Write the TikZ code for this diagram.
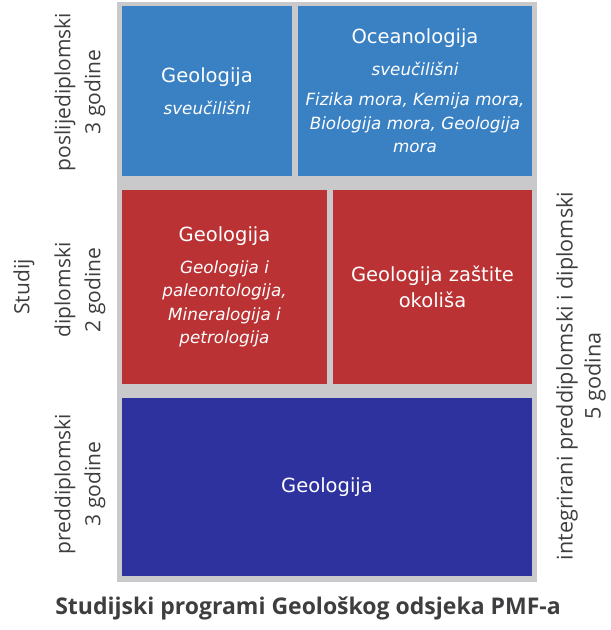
\documentclass[tikz,border=0pt]{standalone}
\usepackage{fontspec}
\setmainfont{DejaVu Sans}
\newfontfamily\sidefont{Open Sans}
\definecolor{postblue}{RGB}{58,129,196}
\definecolor{diplred}{RGB}{186,50,52}
\definecolor{predblue}{RGB}{46,50,158}
\definecolor{panelgray}{RGB}{201,201,203}
\definecolor{labelgray}{RGB}{62,62,64}
\newcommand{\prghead}[1]{{\upshape\fontsize{19.5}{23.5}\selectfont #1}}
\begin{document}
\begin{tikzpicture}[x=1pt, y=-1pt,
  prog/.style={text=white, align=center, inner sep=0pt, outer sep=0pt,
    font=\fontsize{16.8}{23.5}\selectfont\itshape},
  side/.style={rotate=90, align=center, text=labelgray,
    font=\sidefont\fontsize{21}{30}\selectfont}]
\useasboundingbox (0,0) rectangle (611,630);
% gray panel behind the programmes
\fill[panelgray] (117,2) rectangle (537,582);
% poslijediplomski
\node[prog, fill=postblue, minimum width=170pt, minimum height=170pt] (geopost) at (207,91)
  {\prghead{Geologija}\\[8.5pt] sveučilišni};
\node[prog, fill=postblue, minimum width=234pt, minimum height=170pt] (ocean) at (415,91)
  {\prghead{Oceanologija}\\[8.5pt] sveučilišni\\[6.5pt] Fizika mora, Kemija mora,\\ Biologija mora, Geologija\\ mora};
% diplomski
\node[prog, fill=diplred, minimum width=205pt, minimum height=194pt] (geodipl) at (224.5,287)
  {\prghead{Geologija}\\[8.5pt] Geologija i\\ paleontologija,\\ Mineralogija i\\ petrologija};
\node[prog, fill=diplred, minimum width=199pt, minimum height=194pt,
  font=\fontsize{19.5}{26}\selectfont] (okolis) at (432.5,287) {Geologija zaštite\\ okoliša};
% preddiplomski
\node[prog, fill=predblue, minimum width=410pt, minimum height=178pt,
  font=\fontsize{19.5}{26}\selectfont] (geopred) at (327,487) {Geologija};
% side labels
\node[side] (lpost) at (80,92) {poslijediplomski\\3 godine};
\node[side] (studij) at (24,287) {Studij};
\node[side] (ldipl) at (80,290) {diplomski\\2 godine};
\node[side] (lpred) at (80,484) {preddiplomski\\3 godine};
\node[side, font=\sidefont\fontsize{21.6}{28}\selectfont] (lint) at (581,376)
  {integrirani preddiplomski i diplomski\\5 godina};
\node[font=\sidefont\bfseries\fontsize{23}{27}\selectfont, text=labelgray] (title) at (308,608)
  {Studijski programi Geološkog odsjeka PMF-a};
\end{tikzpicture}
\end{document}
